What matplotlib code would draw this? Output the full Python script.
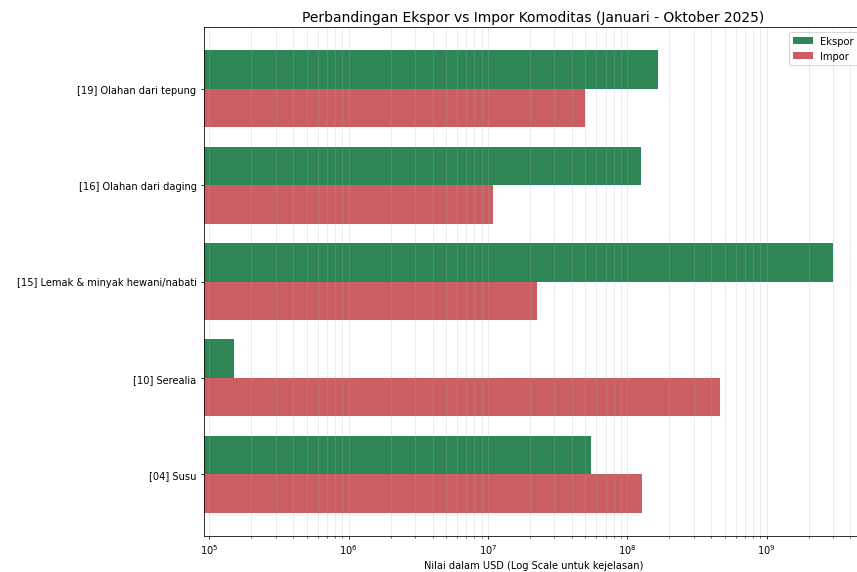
import numpy as np
import matplotlib.pyplot as plt

# data (USD, log scale)
komoditas = ["[04] Susu", "[10] Serealia", "[15] Lemak & minyak hewani/nabati",
             "[16] Olahan dari daging", "[19] Olahan dari tepung"]
ekspor = [5.5e7, 1.49e5, 3.0e9, 1.26e8, 1.67e8]
impor = [1.28e8, 4.6e8, 2.26e7, 1.09e7, 5.0e7]

y = np.arange(len(komoditas))
h = 0.4

fig, ax = plt.subplots(figsize=(12, 8.02), dpi=71.42)
ax.barh(y + h / 2, ekspor, h, label="Ekspor", color="#22804e", alpha=0.95)
ax.barh(y - h / 2, impor, h, label="Impor", color="#c9555a", alpha=0.95)

ax.set_xscale("log")
ax.set_yticks(y)
ax.set_yticklabels(komoditas)
ax.set_xlabel("Nilai dalam USD (Log Scale untuk kejelasan)")
ax.set_title("Perbandingan Ekspor vs Impor Komoditas (Januari - Oktober 2025)", fontsize=14)
ax.legend()
ax.grid(True, which="both", axis="x", ls="-", alpha=0.3)

plt.subplots_adjust(left=0.2375, right=1.007, top=0.951, bottom=0.063)
plt.savefig("out.png")
